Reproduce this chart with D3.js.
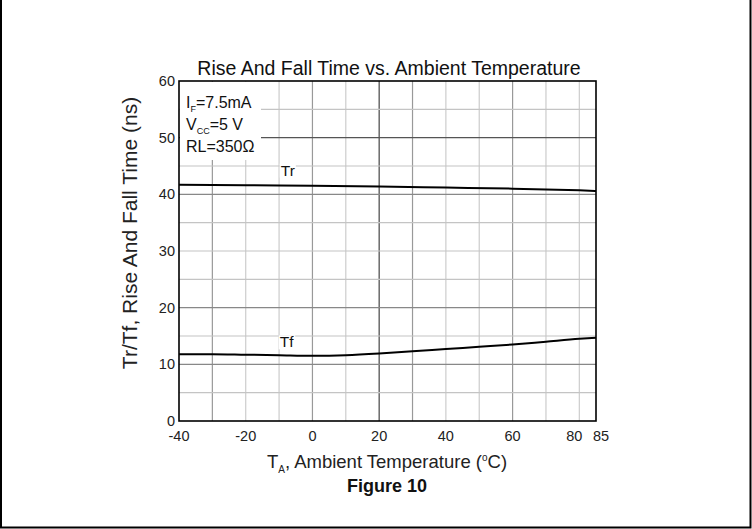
<!DOCTYPE html>
<html><head><meta charset="utf-8">
<script src="https://cdn.jsdelivr.net/npm/d3@7"></script>
<style>body{margin:0;background:#fff}svg{display:block}text{font-family:"Liberation Sans",Arial,sans-serif}</style>
</head><body>
<svg id="c" width="752" height="529"></svg>
<script>
const tempTr = [-40, -20, 0, 20, 40, 60, 80, 85];
const trValues = [41.7, 41.6, 41.5, 41.4, 41.2, 41.0, 40.7, 40.6];
const tempTf = [-40, -30, -20, -10, 0, 10, 20, 30, 40, 50, 60, 70, 80, 85];
const tfValues = [11.8, 11.8, 11.7, 11.6, 11.5, 11.6, 11.9, 12.3, 12.7, 13.1, 13.5, 14.0, 14.5, 14.7];
const xTicks = [-40, -20, 0, 20, 40, 60, 80, 85];
const yTicks = [0, 10, 20, 30, 40, 50, 60];
const xGrid = [-30, -20, -10, 0, 10, 20, 30, 40, 50, 60, 70, 80];
const yGrid = [5, 10, 15, 20, 25, 30, 35, 40, 45, 50, 55];

const svg = d3.select("#c");
const L = 179, R = 596, T = 81, B = 421;
const x = d3.scaleLinear().domain([-40, 85]).range([L, R]);
const y = d3.scaleLinear().domain([0, 60]).range([B, T]);

// outer border (left, right, bottom)
svg.append("path").attr("d", "M1,0V527.5H750.5V0").attr("fill", "none").attr("stroke", "#000").attr("stroke-width", 2);

const vCol = v => v === 20 ? "#444" : (v === -30 || v === 0 || v === 30 || v === 60) ? "#999" : "#ccc";
const hCol = v => v === 50 ? "#555" : (v === 20 || v === 10 || v === 40) ? "#888" : "#c4c4c4";

const g = svg.append("g");
g.selectAll(".vg").data(xGrid).join("line")
  .attr("x1", d => x(d)).attr("x2", d => x(d)).attr("y1", T).attr("y2", B)
  .attr("stroke", vCol).attr("stroke-width", 1.2);
g.selectAll(".hg").data(yGrid).join("line")
  .attr("x1", L).attr("x2", R).attr("y1", d => y(d)).attr("y2", d => y(d))
  .attr("stroke", hCol).attr("stroke-width", 1.2);

// annotation box background
svg.append("rect").attr("x", L + 1).attr("y", T + 1).attr("width", 81).attr("height", 78).attr("fill", "#fff");

// lines
const line = d3.line().x(d => x(d[0])).y(d => y(d[1])).curve(d3.curveMonotoneX);
svg.append("path").datum(tempTr.map((t, i) => [t, trValues[i]])).attr("d", line)
  .attr("fill", "none").attr("stroke", "#000").attr("stroke-width", 2);
svg.append("path").datum(tempTf.map((t, i) => [t, tfValues[i]])).attr("d", line)
  .attr("fill", "none").attr("stroke", "#000").attr("stroke-width", 2);

// curve labels
function label(txt, xv, yv) {
  const t = svg.append("text").attr("x", x(xv)).attr("y", y(yv)).attr("font-size", 15.5).attr("fill", "#111").text(txt);
  const bb = t.node().getBBox();
  svg.insert("rect", "text").attr("x", bb.x - 1).attr("y", bb.y + 2).attr("width", bb.width + 2).attr("height", bb.height - 3).attr("fill", "#fff");
}
label("Tr", -9.5, 43.3);
label("Tf", -9.8, 13.0);

// frame
svg.append("rect").attr("x", L).attr("y", T).attr("width", R - L).attr("height", B - T)
  .attr("fill", "none").attr("stroke", "#000").attr("stroke-width", 1.6);

// axes tick labels
svg.append("g").selectAll("text").data(yTicks).join("text")
  .attr("x", L - 4).attr("y", d => y(d) + 5).attr("text-anchor", "end").attr("font-size", 14.5).attr("fill", "#222").text(d => d);
svg.append("g").selectAll("text").data(xTicks).join("text")
  .attr("x", d => x(d) + (d === 80 ? -5 : d === 85 ? 5 : 0)).attr("y", B + 20).attr("text-anchor", "middle")
  .attr("font-size", 14.5).attr("fill", "#222").text(d => d);

// title
svg.append("text").attr("x", 389).attr("y", 75).attr("text-anchor", "middle").attr("font-size", 19.5).attr("fill", "#111")
  .text("Rise And Fall Time vs. Ambient Temperature");

// annotations
const ann = svg.append("g").attr("font-size", 16).attr("fill", "#111");
const a1 = ann.append("text").attr("x", 186).attr("y", 108);
a1.append("tspan").text("I");
a1.append("tspan").attr("font-size", 9).attr("dy", 4).text("F");
a1.append("tspan").attr("dy", -4).text("=7.5mA");
const a2 = ann.append("text").attr("x", 186).attr("y", 130);
a2.append("tspan").text("V");
a2.append("tspan").attr("font-size", 9).attr("dy", 4).text("CC");
a2.append("tspan").attr("dy", -4).text("=5 V");
ann.append("text").attr("x", 186).attr("y", 152).text("RL=350Ω");

// y label
svg.append("text").attr("transform", "translate(137,233) rotate(-90)").attr("text-anchor", "middle")
  .attr("font-size", 21).attr("fill", "#222").text("Tr/Tf, Rise And Fall Time (ns)");

// x label
const xl = svg.append("text").attr("x", 387).attr("y", 468).attr("text-anchor", "middle").attr("font-size", 18.5).attr("fill", "#222");
xl.append("tspan").text("T");
xl.append("tspan").attr("font-size", 10).attr("dy", 5).text("A");
xl.append("tspan").attr("dy", -5).text(", Ambient Temperature (");
xl.append("tspan").attr("font-size", 10).attr("dy", -7).text("o");
xl.append("tspan").attr("dy", 7).text("C)");

svg.append("text").attr("x", 387).attr("y", 492).attr("text-anchor", "middle").attr("font-size", 18).attr("font-weight", "bold").attr("fill", "#111").text("Figure 10");
</script>
</body></html>
